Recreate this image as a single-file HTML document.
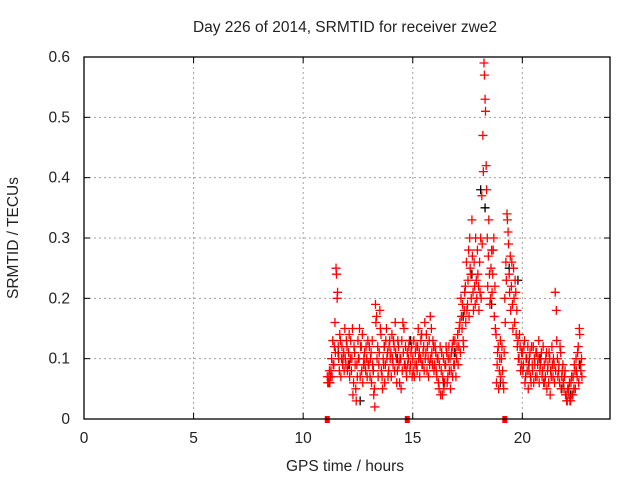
<!DOCTYPE html>
<html><head><meta charset="utf-8"><style>
html,body{margin:0;padding:0;background:#fff;}
svg{display:block;font-family:"Liberation Sans",sans-serif;}
</style></head><body>
<svg id="chart" width="640" height="480" viewBox="0 0 640 480" xmlns="http://www.w3.org/2000/svg">
<rect x="0" y="0" width="640" height="480" fill="#fff"/>
<text x="345" y="32" font-size="15.5" text-anchor="middle" fill="#222">Day 226 of 2014, SRMTID for receiver zwe2</text>
<text x="345" y="471" font-size="15.5" text-anchor="middle" fill="#222">GPS time / hours</text>
<text x="18" y="238" font-size="15.5" text-anchor="middle" fill="#222" transform="rotate(-90 18 238)">SRMTID / TECUs</text>
<g id="grid"></g>
<g id="ticks"></g>
<g id="black"></g>
<g id="red"></g>
<rect x="84" y="57" width="526" height="362" fill="none" stroke="#000" stroke-width="1.3"/>
</svg>
<script>
const xTicks=[0,5,10,15,20];
const yTicks=[0,0.1,0.2,0.3,0.4,0.5,0.6];
const yTickLabels=["0","0.1","0.2","0.3","0.4","0.5","0.6"];
const redTimes=[11.10,11.15,11.20,11.25,11.30,11.35,11.40,11.45,11.50,11.55,11.60,11.65,11.70,11.75,11.80,11.85,11.90,11.95,
12.00,12.05,12.10,12.15,12.20,12.25,12.30,12.35,12.40,12.45,12.50,12.55,12.60,12.65,12.70,12.75,12.80,12.85,12.90,12.95,
13.00,13.05,13.10,13.15,13.20,13.25,13.30,13.35,13.40,13.45,13.50,13.55,13.60,13.65,13.70,13.75,13.80,13.85,13.90,13.95,
14.00,14.05,14.10,14.15,14.20,14.25,14.30,14.35,14.40,14.45,14.50,14.55,14.60,14.65,14.70,14.75,14.80,14.85,14.90,14.95,
15.00,15.05,15.10,15.15,15.20,15.25,15.30,15.35,15.40,15.45,15.50,15.55,15.60,15.65,15.70,15.75,15.80,15.85,15.90,15.95,
16.00,16.05,16.10,16.15,16.20,16.25,16.30,16.35,16.40,16.45,16.50,16.55,16.60,16.65,16.70,16.75,16.80,16.85,16.90,16.95,
17.00,17.05,17.10,17.15,17.20,17.25,17.30,17.35,17.40,17.45,17.50,17.55,17.60,17.65,17.70,17.75,17.80,17.85,17.90,17.95,
18.00,18.05,18.10,18.15,18.20,18.25,18.30,18.35,18.40,18.45,18.50,18.55,18.60,18.65,18.70,18.75,18.80,18.85,18.90,18.95,
19.00,19.05,19.10,19.15,19.20,19.25,19.30,19.35,19.40,19.45,19.50,19.55,19.60,19.65,19.70,19.75,19.80,19.85,19.90,19.95,
20.00,20.05,20.10,20.15,20.20,20.25,20.30,20.35,20.40,20.45,20.50,20.55,20.60,20.65,20.70,20.75,20.80,20.85,20.90,20.95,
21.00,21.05,21.10,21.15,21.20,21.25,21.30,21.35,21.40,21.45,21.50,21.55,21.60,21.65,21.70,21.75,21.80,21.85,21.90,21.95,
22.00,22.05,22.10,22.15,22.20,22.25,22.30,22.35,22.40,22.45,22.50,22.55,22.60,22.65,22.70];
const redA=[.07,.06,.08,.07,.10,.13,.09,.16,.25,.20,.12,.08,.13,.10,.09,.11,.15,.09,
.12,.09,.14,.10,.08,.15,.06,.11,.05,.09,.13,.10,.07,.12,.14,.09,.11,.08,.10,.13,
.09,.07,.11,.13,.08,.05,.19,.17,.12,.09,.18,.14,.07,.10,.12,.09,.15,.11,.08,.13,
.11,.14,.09,.12,.16,.10,.08,.12,.06,.10,.13,.16,.15,.09,.08,.11,.10,.13,.09,.12,
.10,.13,.09,.12,.08,.15,.11,.10,.14,.09,.12,.16,.11,.08,.10,.13,.17,.15,.09,.12,
.09,.11,.07,.10,.05,.12,.08,.04,.10,.06,.09,.11,.07,.12,.10,.08,.12,.13,.09,.11,
.10,.14,.12,.16,.20,.15,.13,.18,.22,.26,.19,.28,.30,.24,.33,.21,.26,.19,.23,.28,
.22,.26,.30,.37,.47,.59,.53,.42,.30,.27,.24,.20,.28,.24,.30,.22,.14,.09,.12,.08,
.13,.10,.08,.05,.20,.26,.34,.31,.24,.27,.22,.19,.25,.16,.21,.18,.13,.10,.12,.09,
.11,.09,.13,.07,.10,.12,.08,.11,.06,.09,.12,.10,.07,.11,.09,.13,.08,.10,.07,.12,
.09,.07,.11,.08,.06,.10,.08,.12,.07,.09,.21,.18,.10,.08,.06,.11,.07,.09,.05,.08,
.04,.03,.05,.06,.03,.07,.04,.05,.08,.10,.07,.12,.15,.09,.10];
const redB=[.06,.07,.06,.08,.07,.09,.12,.11,.24,.21,.10,.14,.07,.12,.10,.08,.10,.13,
.08,.11,.07,.13,.10,.04,.12,.09,.03,.07,.10,.15,.12,.08,.06,.10,.09,.12,.07,.09,
.12,.10,.06,.09,.04,.02,.16,.10,.07,.11,.15,.08,.05,.09,.06,.13,.10,.07,.12,.10,
.07,.10,.13,.08,.11,.06,.13,.09,.10,.05,.08,.11,.09,.12,.07,.09,.12,.08,.11,.07,
.08,.07,.11,.09,.12,.10,.07,.13,.09,.11,.08,.10,.14,.12,.07,.09,.10,.11,.13,.08,
.12,.08,.10,.06,.09,.04,.11,.07,.05,.09,.12,.06,.10,.08,.05,.11,.07,.09,.13,.07,
.12,.09,.15,.11,.17,.19,.12,.21,.16,.18,.23,.17,.25,.20,.27,.18,.22,.30,.20,.24,
.18,.21,.20,.29,.41,.57,.51,.38,.22,.33,.19,.25,.21,.28,.17,.15,.06,.11,.05,.10,
.07,.12,.06,.11,.16,.23,.33,.29,.21,.18,.26,.15,.20,.23,.14,.12,.10,.14,.08,.11,
.08,.12,.06,.10,.08,.05,.10,.07,.12,.08,.06,.09,.11,.07,.10,.06,.09,.11,.08,.06,
.06,.10,.05,.09,.11,.04,.07,.09,.10,.06,.08,.13,.07,.09,.12,.05,.08,.06,.07,.04,
.03,.05,.04,.03,.06,.04,.07,.09,.05,.08,.11,.06,.14,.08,.07];
const blackTimes=[11.2,11.6,12.1,12.6,13.2,13.7,14.3,14.9,15.4,15.9,16.4,16.9,17.3,17.7,18.1,18.3,18.6,19.0,19.4,19.8,20.3,20.8,21.3,21.8,22.2,22.6];
const blackVals=[.06,.11,.09,.03,.08,.12,.10,.13,.14,.09,.06,.11,.17,.24,.38,.35,.19,.06,.25,.23,.09,.10,.08,.05,.04,.09];
const zeroTimes=[11.1,14.75,19.2];
const zeroVals=[0,0,0];

const X0=84,X1=610,Y0=419,Y1=57,XMAX=24,YMAX=0.6;
function sx(t){return X0+(X1-X0)*t/XMAX;}
function sy(v){return Y0-(Y0-Y1)*v/YMAX;}
const NS="http://www.w3.org/2000/svg";
function mk(tag,attrs,parent){const e=document.createElementNS(NS,tag);for(const k in attrs)e.setAttribute(k,attrs[k]);parent.appendChild(e);return e;}
const grid=document.getElementById('grid'),ticks=document.getElementById('ticks');
xTicks.forEach((t,i)=>{
  const x=sx(t);
  if(t>0){const g=mk('line',{x1:x,x2:x,y1:Y1,y2:Y0,stroke:'#a0a0a0','stroke-width':1,'stroke-dasharray':'2,3'},grid);
  
  }
  mk('line',{x1:x,x2:x,y1:Y0,y2:Y0-6,stroke:'#000'},ticks);
  mk('line',{x1:x,x2:x,y1:Y1,y2:Y1+6,stroke:'#000'},ticks);
  const tx=mk('text',{x:x,y:443,'font-size':15.5,'text-anchor':'middle',fill:'#222'},ticks);
  tx.textContent=String(t);
  
  
});
yTicks.forEach((v,i)=>{
  const y=sy(v);
  if(v>0&&v<YMAX){const g=mk('line',{x1:X0,x2:X1,y1:y,y2:y,stroke:'#a0a0a0','stroke-width':1,'stroke-dasharray':'2,3'},grid);
  
  }
  mk('line',{x1:X0,x2:X0+6,y1:y,y2:y,stroke:'#000'},ticks);
  mk('line',{x1:X1,x2:X1-6,y1:y,y2:y,stroke:'#000'},ticks);
  const tx=mk('text',{x:70,y:y+5,'font-size':15.5,'text-anchor':'end',fill:'#222'},ticks);
  tx.textContent=yTickLabels[i];
  
  
});
function plus(parent,t,v,color,name){
  const x=sx(t),y=sy(v);
  const p=mk('path',{d:`M${x-4.5} ${y}H${x+4.5}M${x} ${y-4.5}V${y+4.5}`,stroke:color,'stroke-width':1.3,fill:'none'},parent);
  
  
}
const bg=document.getElementById('black'),rg=document.getElementById('red');
blackTimes.forEach((t,i)=>plus(bg,t,blackVals[i],'#000','black-point'));
redTimes.forEach((t,i)=>{plus(rg,t,redA[i],'#f00','red-point');plus(rg,t+0.02,redB[i],'#f00','red-point');});
zeroTimes.forEach((t,i)=>{
  const x=sx(t),y=sy(zeroVals[i]);
  const r=mk('rect',{x:x-2.5,y:y-3,width:5,height:7,fill:'#f00'},rg);
  
  
});
</script>
</body></html>
